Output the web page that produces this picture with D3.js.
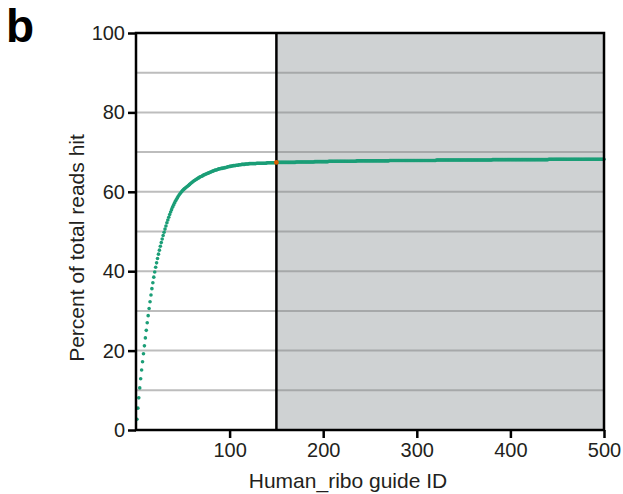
<!DOCTYPE html>
<meta charset="utf-8">
<title>Human_ribo guides</title>
<style>
body { margin: 0; background: #fff; }
svg { font-family: "Liberation Sans", Arial, Helvetica, sans-serif; }
.axis text { font-size: 20px; fill: #231f20; }
.axis path { display: none; }
.axis line { stroke: #000; stroke-width: 2.5; }
</style>
<body>
<svg id="chart" width="623" height="494"></svg>
</body>
<script src="https://cdn.jsdelivr.net/npm/d3@7"></script>
<script>

// percent of total reads hit, cumulative, one value per guide (guide 1..500)
var pctHit = [
  2.7,5.5,8.1,10.6,12.9,15.1,17.2,19.2,21.2,23.2,
  25.1,27.0,28.8,30.6,32.3,34.0,35.6,37.1,38.5,39.8,
  41.0,42.1,43.2,44.3,45.3,46.3,47.2,48.1,49.0,49.8,
  50.6,51.4,52.2,52.9,53.6,54.3,54.9,55.5,56.1,56.6,
  57.1,57.6,58.0,58.4,58.8,59.2,59.5,59.8,60.1,60.4,
  60.6,60.8,61.0,61.2,61.4,61.6,61.8,62.0,62.2,62.4,
  62.6,62.8,62.9,63.1,63.2,63.4,63.5,63.7,63.8,63.9,
  64.0,64.2,64.3,64.4,64.5,64.6,64.7,64.8,64.9,65.0,
  65.1,65.2,65.3,65.4,65.5,65.5,65.6,65.7,65.8,65.8,
  65.9,65.9,66.0,66.0,66.1,66.1,66.2,66.3,66.3,66.4,
  66.4,66.5,66.5,66.6,66.6,66.6,66.7,66.7,66.7,66.8,
  66.8,66.8,66.9,66.9,66.9,66.9,67.0,67.0,67.0,67.0,
  67.1,67.1,67.1,67.1,67.1,67.1,67.1,67.1,67.2,67.2,
  67.2,67.2,67.2,67.2,67.2,67.2,67.2,67.2,67.2,67.3,
  67.3,67.3,67.3,67.3,67.3,67.3,67.3,67.3,67.3,67.4,
  67.4,67.4,67.4,67.4,67.4,67.4,67.4,67.4,67.4,67.4,
  67.4,67.4,67.4,67.4,67.4,67.4,67.4,67.4,67.4,67.4,
  67.5,67.5,67.5,67.5,67.5,67.5,67.5,67.5,67.5,67.5,
  67.5,67.5,67.5,67.5,67.5,67.5,67.5,67.5,67.5,67.5,
  67.6,67.6,67.6,67.6,67.6,67.6,67.6,67.6,67.6,67.6,
  67.6,67.6,67.6,67.6,67.6,67.7,67.7,67.7,67.7,67.7,
  67.7,67.7,67.7,67.7,67.7,67.7,67.7,67.7,67.7,67.7,
  67.7,67.7,67.7,67.7,67.7,67.7,67.7,67.7,67.7,67.7,
  67.7,67.7,67.7,67.7,67.7,67.8,67.8,67.8,67.8,67.8,
  67.8,67.8,67.8,67.8,67.8,67.8,67.8,67.8,67.8,67.8,
  67.8,67.8,67.8,67.8,67.8,67.8,67.8,67.8,67.8,67.8,
  67.8,67.8,67.8,67.8,67.8,67.8,67.8,67.8,67.8,67.8,
  67.9,67.9,67.9,67.9,67.9,67.9,67.9,67.9,67.9,67.9,
  67.9,67.9,67.9,67.9,67.9,67.9,67.9,67.9,67.9,67.9,
  67.9,67.9,67.9,67.9,67.9,67.9,67.9,67.9,67.9,67.9,
  67.9,67.9,67.9,67.9,67.9,67.9,67.9,67.9,67.9,67.9,
  67.9,67.9,67.9,67.9,67.9,67.9,67.9,67.9,67.9,67.9,
  68.0,68.0,68.0,68.0,68.0,68.0,68.0,68.0,68.0,68.0,
  68.0,68.0,68.0,68.0,68.0,68.0,68.0,68.0,68.0,68.0,
  68.0,68.0,68.0,68.0,68.0,68.0,68.0,68.0,68.0,68.0,
  68.0,68.0,68.0,68.0,68.0,68.0,68.0,68.0,68.0,68.0,
  68.0,68.0,68.0,68.0,68.0,68.0,68.0,68.0,68.0,68.0,
  68.0,68.0,68.0,68.0,68.0,68.0,68.0,68.0,68.0,68.0,
  68.1,68.1,68.1,68.1,68.1,68.1,68.1,68.1,68.1,68.1,
  68.1,68.1,68.1,68.1,68.1,68.1,68.1,68.1,68.1,68.1,
  68.1,68.1,68.1,68.1,68.1,68.1,68.1,68.1,68.1,68.1,
  68.1,68.1,68.1,68.1,68.1,68.1,68.1,68.1,68.1,68.1,
  68.1,68.1,68.1,68.1,68.1,68.1,68.1,68.1,68.1,68.1,
  68.1,68.1,68.1,68.1,68.1,68.1,68.1,68.1,68.1,68.1,
  68.2,68.2,68.2,68.2,68.2,68.2,68.2,68.2,68.2,68.2,
  68.2,68.2,68.2,68.2,68.2,68.2,68.2,68.2,68.2,68.2,
  68.2,68.2,68.2,68.2,68.2,68.2,68.2,68.2,68.2,68.2,
  68.2,68.2,68.2,68.2,68.2,68.2,68.2,68.2,68.2,68.2,
  68.2,68.2,68.2,68.2,68.2,68.2,68.2,68.2,68.2,68.2,
  68.2,68.2,68.2,68.2,68.2,68.2,68.2,68.2,68.2,68.2
];

var cutoffGuide = 150;
var xTicks = [100, 200, 300, 400, 500];
var yTicks = [0, 20, 40, 60, 80, 100];
var gridVals = [10, 20, 30, 40, 50, 60, 70, 80, 90];

var svg = d3.select('#chart');

var x = d3.scaleLinear().domain([0, 500]).range([136, 604]);
var y = d3.scaleLinear().domain([0, 100]).range([430, 33]);

var data = pctHit.map(function(v, i){ return {guide: i + 1, pct: v}; });

// shaded region beyond the cutoff
svg.append('rect')
  .attr('x', x(cutoffGuide)).attr('y', y(100))
  .attr('width', x(500) - x(cutoffGuide)).attr('height', y(0) - y(100))
  .attr('fill', '#cfd2d3');

// grid lines, lighter over white, darker over the grey
svg.selectAll('line.gridw').data(gridVals).enter().append('line')
  .attr('class', 'gridw')
  .attr('x1', x(0)).attr('x2', x(cutoffGuide))
  .attr('y1', y).attr('y2', y)
  .attr('stroke', '#bdbdbd').attr('stroke-width', 2);

svg.selectAll('line.gridg').data(gridVals).enter().append('line')
  .attr('class', 'gridg')
  .attr('x1', x(cutoffGuide)).attr('x2', x(500))
  .attr('y1', y).attr('y2', y)
  .attr('stroke', '#a6a8a9').attr('stroke-width', 2);

// one dot per guide
svg.selectAll('circle.pt').data(data).enter().append('circle')
  .attr('class', 'pt')
  .attr('cx', function(d){ return x(d.guide); })
  .attr('cy', function(d){ return y(d.pct); })
  .attr('r', 1.8)
  .attr('fill', '#1b9e77');

// frame and cutoff divider
svg.append('rect')
  .attr('x', x(0)).attr('y', y(100))
  .attr('width', x(500) - x(0)).attr('height', y(0) - y(100))
  .attr('fill', 'none').attr('stroke', '#000').attr('stroke-width', 2.5);

svg.append('line')
  .attr('x1', x(cutoffGuide)).attr('x2', x(cutoffGuide))
  .attr('y1', y(100)).attr('y2', y(0))
  .attr('stroke', '#000').attr('stroke-width', 2.5);

// the cutoff guide highlighted
svg.append('circle')
  .datum(data[cutoffGuide - 1])
  .attr('cx', function(d){ return x(d.guide); })
  .attr('cy', function(d){ return y(d.pct); })
  .attr('r', 2.4)
  .attr('fill', '#d95f02');

// axes
svg.append('g').attr('class', 'axis')
  .attr('transform', 'translate(0,' + y(0) + ')')
  .call(d3.axisBottom(x).tickValues(xTicks).tickSize(8).tickPadding(5));

svg.append('g').attr('class', 'axis')
  .attr('transform', 'translate(' + x(0) + ',0)')
  .call(d3.axisLeft(y).tickValues(yTicks).tickSize(8).tickPadding(3));

svg.append('text')
  .attr('x', 348).attr('y', 488)
  .attr('text-anchor', 'middle')
  .style('font-size', '21px').attr('fill', '#231f20')
  .text('Human_ribo guide ID');

svg.append('text')
  .attr('transform', 'translate(84,248) rotate(-90)')
  .attr('text-anchor', 'middle')
  .style('font-size', '21px').attr('fill', '#231f20')
  .text('Percent of total reads hit');

svg.append('text')
  .attr('x', 6).attr('y', 42)
  .style('font-size', '46px').style('font-weight', 'bold')
  .attr('fill', '#000')
  .text('b');

</script>
